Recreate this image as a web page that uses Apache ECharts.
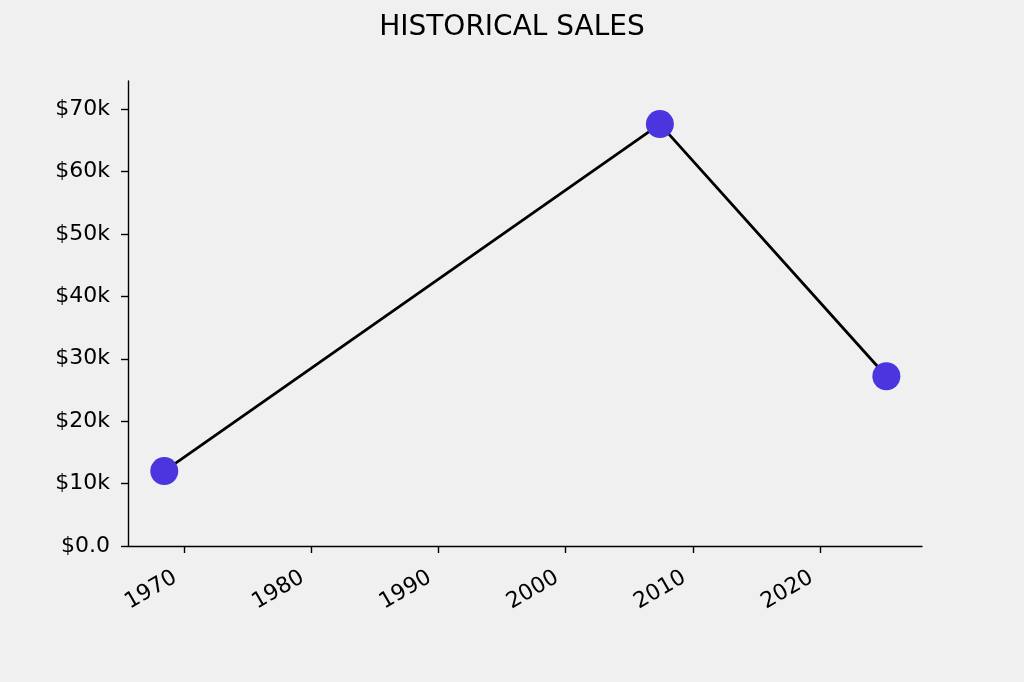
<!DOCTYPE html>
<html>
<head>
<meta charset="utf-8">
<script src="https://cdn.jsdelivr.net/npm/echarts@6/dist/echarts.min.js"></script>
<style>
html,body{margin:0;padding:0;background:#f0f0f0;}
#chart{width:1024px;height:682px;}
</style>
</head>
<body>
<div id="chart"></div>
<script>
const years = [1968.45, 2007.4, 2025.2];
const sales = [12.0, 67.6, 27.2]; // in $k
const xTicks = [1970, 1980, 1990, 2000, 2010, 2020];
const yTicks = [0, 10, 20, 30, 40, 50, 60, 70];
const title = 'HISTORICAL SALES';

const chart = echarts.init(document.getElementById('chart'));
const font = 'DejaVu Sans';
chart.setOption({
  backgroundColor: '#f0f0f0',
  animation: false,
  title: {
    text: title, left: 'center', top: 9,
    textStyle: {fontFamily: font, fontSize: 28, fontWeight: 'normal', color: '#000'}
  },
  grid: {left: 128, right: 102, top: 81, bottom: 136},
  xAxis: {
    type: 'value', min: 1965.6, max: 2028.0,
    axisLine: {lineStyle: {color: '#000', width: 1.4}},
    axisTick: {show: true, length: 7, customValues: xTicks, lineStyle: {color: '#000', width: 1.4}},
    axisLabel: {customValues: xTicks, rotate: 30, margin: 25, padding: [0, 10, 0, 0],
      fontFamily: font, fontSize: 22, color: '#000', formatter: v => String(v)},
    splitLine: {show: false}
  },
  yAxis: {
    type: 'value', min: 0, max: 74.5,
    axisLine: {show: true, lineStyle: {color: '#000', width: 1.4}},
    axisTick: {show: true, length: 7, customValues: yTicks, lineStyle: {color: '#000', width: 1.4}},
    axisLabel: {
      customValues: yTicks,
      fontFamily: font, fontSize: 22, color: '#000', margin: 18,
      formatter: v => v === 0 ? '$0.0' : '$' + v + 'k'
    },
    splitLine: {show: false}
  },
  series: [{
    type: 'line',
    data: years.map((y, i) => [y, sales[i]]),
    symbol: 'circle', symbolSize: 28,
    itemStyle: {color: '#4a35de'},
    lineStyle: {color: '#000', width: 2.8}
  }]
});
</script>
</body>
</html>
